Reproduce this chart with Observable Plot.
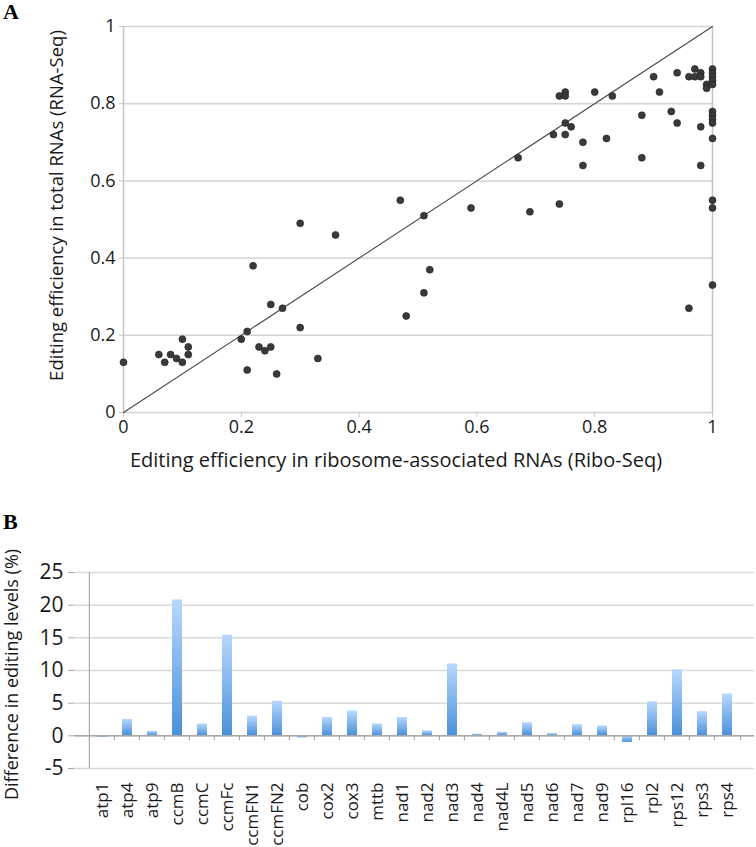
<!DOCTYPE html>
<html><head><meta charset="utf-8">
<script src="https://cdn.jsdelivr.net/npm/d3@7"></script>
<script src="https://cdn.jsdelivr.net/npm/@observablehq/plot@0.6"></script>
<style>
body{margin:0;background:#fff;}
#wrap{position:relative;width:756px;height:847px;font-family:"Open Sans",sans-serif;overflow:hidden;}
.panel{position:absolute;font-family:"Liberation Serif",serif;font-weight:bold;font-size:22px;line-height:22px;color:#000;}
</style></head><body>
<div id="wrap">
<div id="a" style="position:absolute;top:0;left:0"></div>
<div id="b" style="position:absolute;top:500px;left:0"></div>
<div class="panel" style="top:1px;left:3px">A</div>
<div class="panel" style="top:511px;left:3px">B</div>
</div>
<script>
// Panel A: editing efficiency per site
const riboSeq = [0,0.06,0.07,0.08,0.09,0.10,0.10,0.11,0.11,0.20,0.21,0.21,0.22,0.23,0.24,0.25,0.25,0.26,0.27,0.30,0.30,0.33,0.36,0.47,0.48,0.51,0.51,0.52,0.59,0.67,0.69,0.73,0.74,0.74,0.75,0.75,0.75,0.75,0.76,0.78,0.78,0.80,0.82,0.83,0.88,0.88,0.90,0.91,0.93,0.94,0.94,0.96,0.96,0.97,0.97,0.98,0.98,0.98,0.98,0.99,0.99,1,1,1,1,1,1,1,1,1,1,1,1,1,1];
const rnaSeq  = [0.13,0.15,0.13,0.15,0.14,0.13,0.19,0.17,0.15,0.19,0.21,0.11,0.38,0.17,0.16,0.17,0.28,0.10,0.27,0.22,0.49,0.14,0.46,0.55,0.25,0.51,0.31,0.37,0.53,0.66,0.52,0.72,0.54,0.82,0.83,0.82,0.75,0.72,0.74,0.70,0.64,0.83,0.71,0.82,0.77,0.66,0.87,0.83,0.78,0.75,0.88,0.87,0.27,0.89,0.87,0.88,0.87,0.74,0.64,0.85,0.84,0.89,0.88,0.87,0.86,0.85,0.78,0.77,0.76,0.75,0.71,0.55,0.53,0.33];
const ticksA = [0,0.2,0.4,0.6,0.8,1];
const identity = [0,1];
const xLabelA = "Editing efficiency in ribosome-associated RNAs (Ribo-Seq)";
const yLabelA = "Editing efficiency in total RNAs (RNA-Seq)";

// Panel B: difference in editing levels per gene
const genes = ["atp1","atp4","atp9","ccmB","ccmC","ccmFc","ccmFN1","ccmFN2","cob","cox2","cox3","mttb","nad1","nad2","nad3","nad4","nad4L","nad5","nad6","nad7","nad9","rpl16","rpl2","rps12","rps3","rps4"];
const diffs = [-0.2,2.5,0.7,20.8,1.8,15.4,3.0,5.3,-0.3,2.8,3.8,1.8,2.8,0.75,11.0,0.25,0.55,2.0,0.35,1.7,1.5,-1.0,5.2,10.1,3.7,6.4];
const ticksB = [-5,0,5,10,15,20,25];
const yLabelB = "Difference in editing levels (%)";

const points = riboSeq.map((x,i)=>({x, y: rnaSeq[i]}));
const bars = genes.map((g,i)=>({gene:g, diff:diffs[i]}));

const gridColor = "#d3d3d3";
const axisColor = "#c4c4c4";
const fmt = d => String(d);

const A = Plot.plot({
  width:756, height:480,
  marginLeft:123, marginRight:44, marginTop:26, marginBottom:68,
  style:{fontFamily:"'Open Sans', sans-serif", color:"#1a1a1a", background:"transparent"},
  x:{domain:[0,1]},
  y:{domain:[0,1]},
  marks:[
    Plot.gridY(ticksA, {stroke:gridColor, strokeOpacity:1, strokeWidth:1.5}),
    Plot.ruleX([0,1], {stroke:axisColor, strokeWidth:1.5}),
    Plot.axisY(ticksA, {tickSize:4, tickPadding:4, stroke:axisColor, fontSize:18, tickFormat:fmt, label:null}),
    Plot.axisX(ticksA, {tickSize:5, tickPadding:3, stroke:axisColor, fontSize:18, tickFormat:fmt, label:null}),
    Plot.line(identity, {x:d=>d, y:d=>d, stroke:"#4a4a4a", strokeWidth:1.1}),
    Plot.dot(points, {x:"x", y:"y", r:3.5, fill:"#3a3a3a", stroke:"#1e1e1e", strokeWidth:0.6}),
    Plot.text([xLabelA], {text:d=>d, frameAnchor:"bottom", dy:54, dx:-22, fontSize:20, fill:"#1a1a1a"}),
    Plot.text([yLabelA], {text:d=>d, frameAnchor:"left", textAnchor:"middle", rotate:-90, dx:-66, dy:-14, fontSize:18.5, fill:"#1a1a1a"})
  ]
});
document.getElementById("a").appendChild(A);

const bw = (756-74-2)/genes.length;
const B = Plot.plot({
  width:756, height:347,
  marginLeft:74, marginRight:2, marginTop:72, marginBottom:79,
  style:{fontFamily:"'Open Sans', sans-serif", color:"#1a1a1a", background:"transparent"},
  x:{domain:genes, padding:0.6, label:null},
  y:{domain:[-5,25]},
  marks:[
    Plot.gridY(ticksB, {stroke:"#dadada", strokeOpacity:1, strokeWidth:1.5}),
    Plot.barY(bars, {x:"gene", y:"diff", fill:"url(#barGrad)"}),
    Plot.ruleY([0], {stroke:"#a8a8a8", strokeWidth:1.5}),
    Plot.ruleX(genes, {x:d=>d, y1:0, y2:-0.75, dx:-bw/2, stroke:"#a8a8a8", strokeWidth:1.2}),
    Plot.ruleX(genes.slice(-1), {x:d=>d, y1:0, y2:-0.75, dx:bw/2, stroke:"#a8a8a8", strokeWidth:1.2}),
    Plot.ruleX(genes.slice(0,1), {x:d=>d, y1:-5, y2:25, dx:-bw/2, stroke:"#a8a8a8", strokeWidth:1.2}),
    Plot.axisY(ticksB, {tickSize:6, tickPadding:5, stroke:"#a8a8a8", fontSize:21, tickFormat:fmt, label:null}),
    Plot.axisX({tickSize:0, tickPadding:14, tickRotate:-90, fontSize:17, label:null}),
    Plot.text([yLabelB], {text:d=>d, frameAnchor:"left", textAnchor:"middle", rotate:-90, dx:-62, dy:4, fontSize:18, fill:"#1a1a1a"})
  ]
});
const ns = "http://www.w3.org/2000/svg";
const defs = document.createElementNS(ns, "defs");
const grad = document.createElementNS(ns, "linearGradient");
grad.setAttribute("id","barGrad");
grad.setAttribute("x1","0"); grad.setAttribute("y1","0");
grad.setAttribute("x2","0"); grad.setAttribute("y2","1");
[["0","#b8d8fd"],["1","#4a90da"]].forEach(([o,c])=>{
  const s = document.createElementNS(ns,"stop");
  s.setAttribute("offset",o); s.setAttribute("stop-color",c);
  grad.appendChild(s);
});
defs.appendChild(grad);
B.insertBefore(defs, B.firstChild);
document.getElementById("b").appendChild(B);
</script>
</body></html>
